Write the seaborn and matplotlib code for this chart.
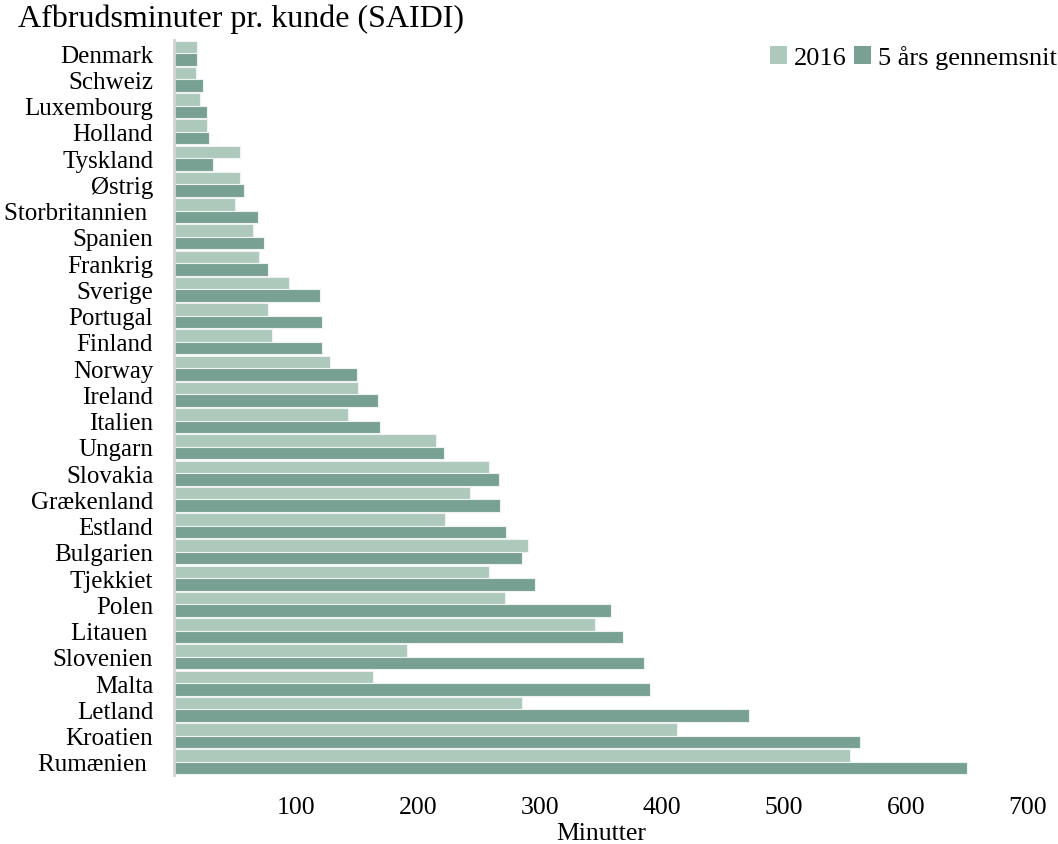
import matplotlib
matplotlib.use("Agg")
import matplotlib.pyplot as plt
import seaborn as sns
import pandas as pd
from matplotlib.patches import Patch

countries = ["Denmark", "Schweiz", "Luxembourg", "Holland", "Tyskland", "Østrig",
             "Storbritannien ", "Spanien", "Frankrig", "Sverige", "Portugal", "Finland",
             "Norway", "Ireland", "Italien", "Ungarn", "Slovakia", "Grækenland",
             "Estland", "Bulgarien", "Tjekkiet", "Polen", "Litauen ", "Slovenien",
             "Malta", "Letland", "Kroatien", "Rumænien "]
saidi_2016 = [19, 18, 21, 27, 54, 54, 50, 65, 70, 94, 77, 80, 128, 151, 143, 215,
              258, 243, 222, 290, 258, 271, 345, 191, 163, 285, 412, 554]
saidi_5yr = [19, 24, 27, 29, 32, 57, 69, 74, 77, 120, 121, 121, 150, 167, 169, 221,
             266, 267, 272, 285, 296, 358, 368, 385, 390, 471, 562, 650]
series_names = ["2016", "5 års gennemsnit"]
colors = ["#adc9bc", "#78a193"]
x_ticks = [100, 200, 300, 400, 500, 600, 700]

df = pd.DataFrame({
    "land": countries * 2,
    "minutter": saidi_2016 + saidi_5yr,
    "serie": [series_names[0]] * len(countries) + [series_names[1]] * len(countries),
})

sns.set_theme(style="white")
plt.rcParams["font.family"] = ["Liberation Serif", "DejaVu Serif"]

fig = plt.figure(figsize=(10.58, 8.45), dpi=100)
ax = fig.add_axes([174 / 1058, 1 - 776 / 845, (1028 - 174) / 1058, 735 / 845])

sns.barplot(data=df, y="land", x="minutter", hue="serie", orient="h",
            palette=colors, saturation=1, width=0.95, edgecolor="#eef3f1",
            linewidth=0.8, ax=ax, legend=False)

ax.set_xlim(0, 700)
ax.set_xticks(x_ticks)
ax.set_xticklabels([str(t) for t in x_ticks])
ax.tick_params(axis="x", length=0, pad=15, labelsize=18.5, colors="black")
ax.tick_params(axis="y", length=0, pad=15, labelsize=18, colors="black")
for lbl in ax.get_yticklabels():
    lbl.set_horizontalalignment("right")

for side in ["top", "right", "bottom"]:
    ax.spines[side].set_visible(False)
ax.spines["left"].set_color("#d4d4d4")
ax.spines["left"].set_linewidth(2)

ax.set_ylabel("")
ax.set_xlabel("Minutter", fontsize=18.5, labelpad=3, color="black")

fig.text(18 / 1058, 1 - 5 / 845, "Afbrudsminuter pr. kunde (SAIDI)",
         ha="left", va="top", fontsize=23, color="black")

handles = [Patch(facecolor=c, edgecolor="none") for c in colors]
fig.legend(handles, series_names, loc="upper right", bbox_to_anchor=(0.999, 1 - 46 / 845),
           ncol=2, frameon=False, fontsize=19, labelcolor="black",
           handlelength=0.65, handleheight=0.65,
           handletextpad=0.25, columnspacing=0.3, borderaxespad=0, borderpad=0)

fig.savefig("out.png", dpi=100)
